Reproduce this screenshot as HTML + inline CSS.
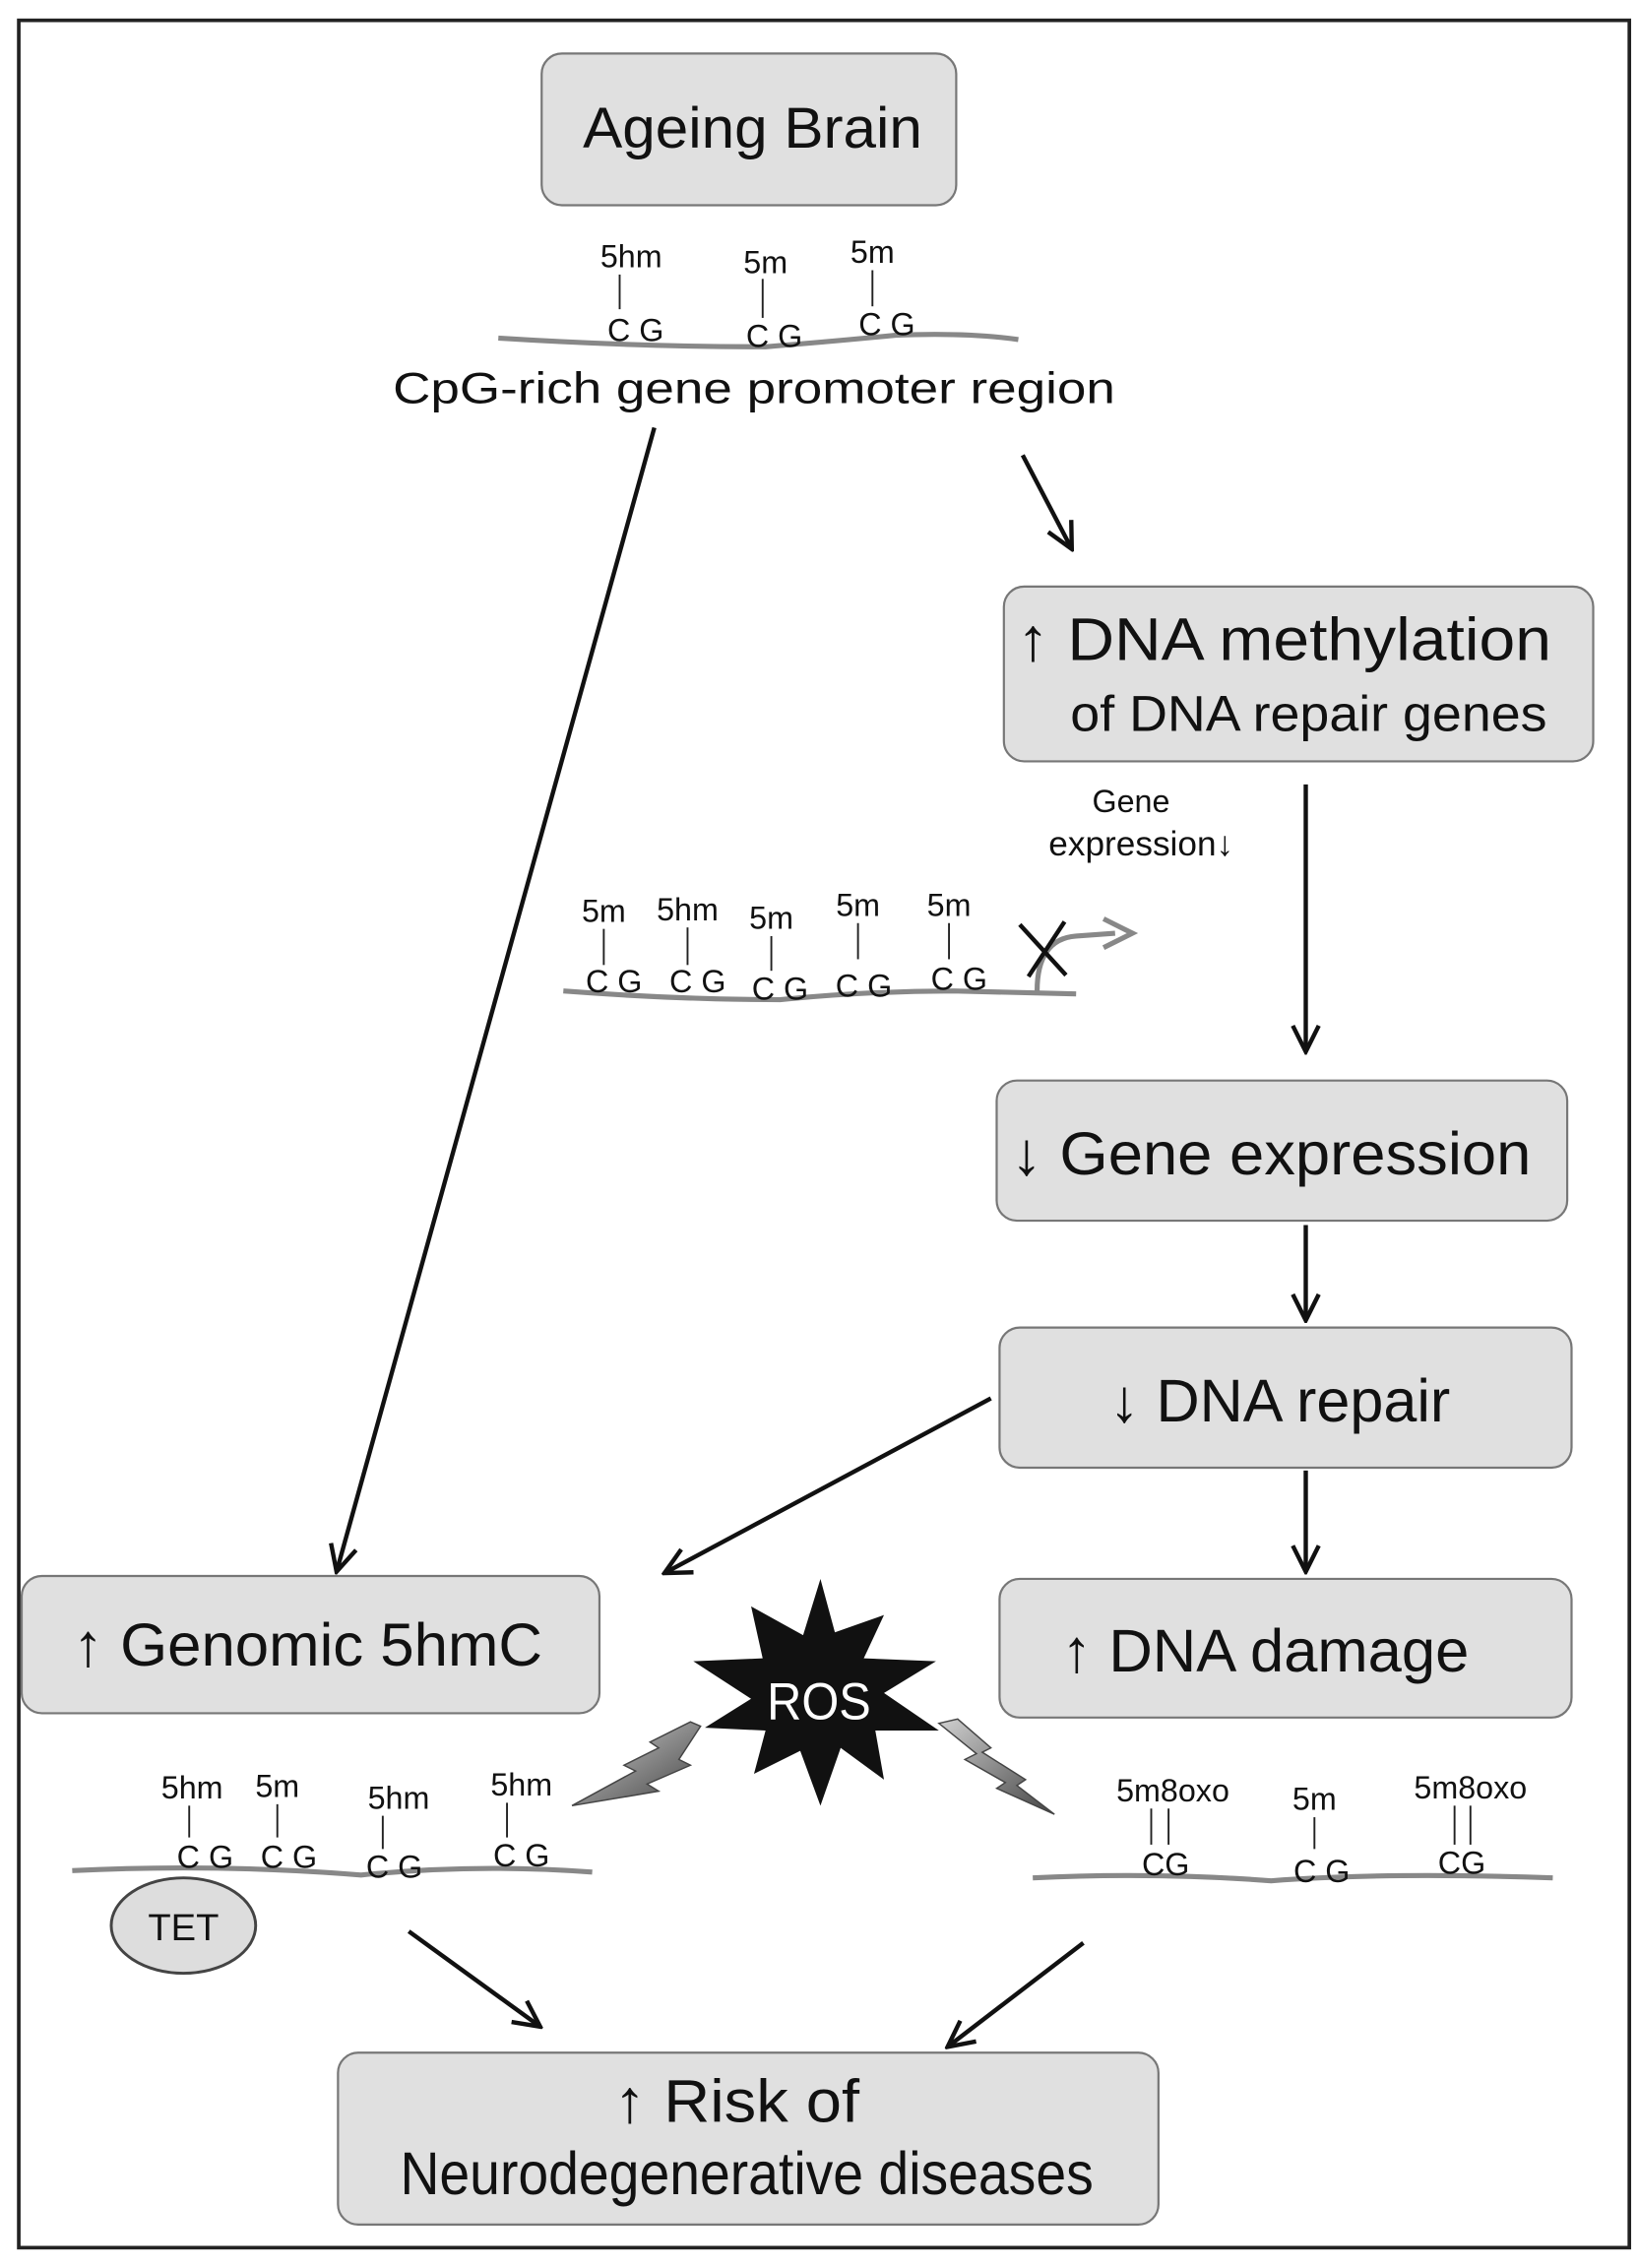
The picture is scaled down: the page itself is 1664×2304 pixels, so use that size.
<!DOCTYPE html>
<html><head><meta charset="utf-8"><style>
html,body{margin:0;padding:0;background:#fff}
svg{display:block}
text{font-family:"Liberation Sans",sans-serif;fill:#111}
</style></head><body>
<svg width="1664" height="2304" viewBox="0 0 1134 1570" xmlns="http://www.w3.org/2000/svg">
<defs>
<marker id="ah2" markerWidth="22" markerHeight="22" refX="20" refY="11" orient="auto" markerUnits="userSpaceOnUse">
<path d="M2,2 L20,11 L2,20" fill="none" stroke="#111" stroke-width="3"/>
</marker>
<linearGradient id="bolt" x1="0" y1="0" x2="1" y2="1">
<stop offset="0" stop-color="#d0d0d0"/><stop offset="1" stop-color="#444"/>
</linearGradient>
</defs>
<rect x="13" y="14" width="1115" height="1542" fill="#fff" stroke="#222" stroke-width="2.5"/>

<g fill="#e0e0e0" stroke="#777" stroke-width="1.5">
<rect x="375" y="37" width="287" height="105" rx="14"/>
<rect x="695" y="406" width="408" height="121" rx="14"/>
<rect x="690" y="748" width="395" height="97" rx="14"/>
<rect x="692" y="919" width="396" height="97" rx="14"/>
<rect x="15" y="1091" width="400" height="95" rx="14"/>
<rect x="692" y="1093" width="396" height="96" rx="14"/>
<rect x="234" y="1421" width="568" height="119" rx="14"/>
</g>

<g lengthAdjust="spacingAndGlyphs">
<text x="521" y="102" font-size="40" text-anchor="middle" textLength="235" lengthAdjust="spacingAndGlyphs">Ageing Brain</text>
<text x="889" y="457" font-size="42" text-anchor="middle" textLength="370" lengthAdjust="spacingAndGlyphs">↑ DNA methylation</text>
<text x="906" y="506" font-size="35" text-anchor="middle" textLength="330" lengthAdjust="spacingAndGlyphs">of DNA repair genes</text>
<text x="880" y="813" font-size="42" text-anchor="middle" textLength="360" lengthAdjust="spacingAndGlyphs">↓ Gene expression</text>
<text x="886" y="984" font-size="42" text-anchor="middle" textLength="236" lengthAdjust="spacingAndGlyphs">↓ DNA repair</text>
<text x="213" y="1153" font-size="42" text-anchor="middle" textLength="325" lengthAdjust="spacingAndGlyphs">↑ Genomic 5hmC</text>
<text x="876" y="1157" font-size="42" text-anchor="middle" textLength="282" lengthAdjust="spacingAndGlyphs">↑ DNA damage</text>
<text x="510" y="1469" font-size="42" text-anchor="middle" textLength="170" lengthAdjust="spacingAndGlyphs">↑ Risk of</text>
<text x="517" y="1519" font-size="42" text-anchor="middle" textLength="480" lengthAdjust="spacingAndGlyphs">Neurodegenerative diseases</text>
<text x="522" y="279" font-size="30" text-anchor="middle" textLength="500" lengthAdjust="spacingAndGlyphs">CpG-rich gene promoter region</text>
</g>

<!-- strands -->
<g fill="none" stroke="#888" stroke-width="3.5">
<path d="M345,234 Q440,240 530,240 Q580,236 620,232 Q670,230 705,235"/>
<path d="M390,686 Q470,692 540,692 Q600,686 660,686 L745,688"/>
<path d="M50,1295 Q150,1290 250,1298 Q330,1290 410,1296"/>
<path d="M715,1300 Q800,1296 880,1302 Q960,1296 1075,1300"/>
</g>

<g font-size="22" text-anchor="middle">
<text x="437" y="185">5hm</text><text x="530" y="189">5m</text><text x="604" y="182">5m</text>
<text x="440" y="236">C G</text><text x="536" y="240">C G</text><text x="614" y="232">C G</text>

<text x="418" y="638">5m</text><text x="476" y="637">5hm</text><text x="534" y="643">5m</text><text x="594" y="634">5m</text><text x="657" y="634">5m</text>
<text x="425" y="687">C G</text><text x="483" y="687">C G</text><text x="540" y="692">C G</text><text x="598" y="690">C G</text><text x="664" y="685">C G</text>

<text x="133" y="1245">5hm</text><text x="192" y="1244">5m</text><text x="276" y="1252">5hm</text><text x="361" y="1243">5hm</text>
<text x="142" y="1293">C G</text><text x="200" y="1293">C G</text><text x="273" y="1300">C G</text><text x="361" y="1292">C G</text>

<text x="812" y="1247">5m8oxo</text><text x="910" y="1253">5m</text><text x="1018" y="1245">5m8oxo</text>
<text x="807" y="1298">CG</text><text x="915" y="1303">C G</text><text x="1012" y="1297">CG</text>
</g>
<g stroke="#222" stroke-width="1.3">
<line x1="429" y1="190" x2="429" y2="214"/><line x1="528" y1="193" x2="528" y2="220"/><line x1="604" y1="187" x2="604" y2="212"/>
<line x1="418" y1="643" x2="418" y2="668"/><line x1="476" y1="642" x2="476" y2="668"/><line x1="534" y1="648" x2="534" y2="672"/><line x1="594" y1="639" x2="594" y2="664"/><line x1="657" y1="639" x2="657" y2="664"/>
<line x1="131" y1="1250" x2="131" y2="1272"/><line x1="192" y1="1249" x2="192" y2="1272"/><line x1="265" y1="1257" x2="265" y2="1280"/><line x1="351" y1="1248" x2="351" y2="1272"/>
<line x1="797" y1="1252" x2="797" y2="1277"/><line x1="809" y1="1252" x2="809" y2="1277"/><line x1="910" y1="1258" x2="910" y2="1280"/><line x1="1007" y1="1250" x2="1007" y2="1277"/><line x1="1018" y1="1250" x2="1018" y2="1277"/>
</g>

<text x="783" y="562" font-size="22" text-anchor="middle">Gene</text>
<text x="790" y="592" font-size="24" text-anchor="middle">expression↓</text>

<path d="M718,686 Q718,650 745,648 L772,646" fill="none" stroke="#888" stroke-width="3.5"/>
<path d="M764,636 L784,646 L764,656" fill="none" stroke="#888" stroke-width="3.5"/>
<g stroke="#111" stroke-width="3"><line x1="706" y1="640" x2="738" y2="675"/><line x1="737" y1="638" x2="712" y2="676"/></g>

<ellipse cx="127" cy="1333" rx="50" ry="33" fill="#ddd" stroke="#444" stroke-width="2"/>
<text x="127" y="1343" font-size="26" text-anchor="middle">TET</text>

<polygon fill="#111" points="568,1093 578,1130 612,1118 598,1148 648,1150 612,1172 650,1198 606,1198 612,1232 582,1210 568,1250 554,1212 522,1228 530,1198 488,1196 520,1176 480,1150 528,1148 520,1112 556,1132"/>
<text x="567" y="1190" font-size="36" text-anchor="middle" textLength="72" lengthAdjust="spacingAndGlyphs" style="fill:#fff">ROS</text>

<polygon fill="url(#bolt)" stroke="#444" stroke-width="1" points="485,1195 470,1218 478,1222 448,1235 456,1240 396,1250 440,1226 432,1222 456,1210 450,1206 478,1192"/>
<polygon fill="url(#bolt)" stroke="#444" stroke-width="1" points="650,1193 663,1190 686,1210 680,1213 710,1232 704,1236 730,1256 690,1238 696,1234 668,1218 676,1214"/>

<g stroke="#111" stroke-width="3" fill="none" marker-end="url(#ah2)">
<line x1="453" y1="296" x2="233" y2="1088"/>
<line x1="708" y1="315" x2="742" y2="380"/>
<line x1="904" y1="543" x2="904" y2="728"/>
<line x1="904" y1="848" x2="904" y2="914"/>
<line x1="904" y1="1018" x2="904" y2="1088"/>
<line x1="686" y1="968" x2="460" y2="1089"/>
<line x1="283" y1="1337" x2="374" y2="1403"/>
<line x1="750" y1="1345" x2="656" y2="1417"/>
</g>
</svg>
</body></html>
